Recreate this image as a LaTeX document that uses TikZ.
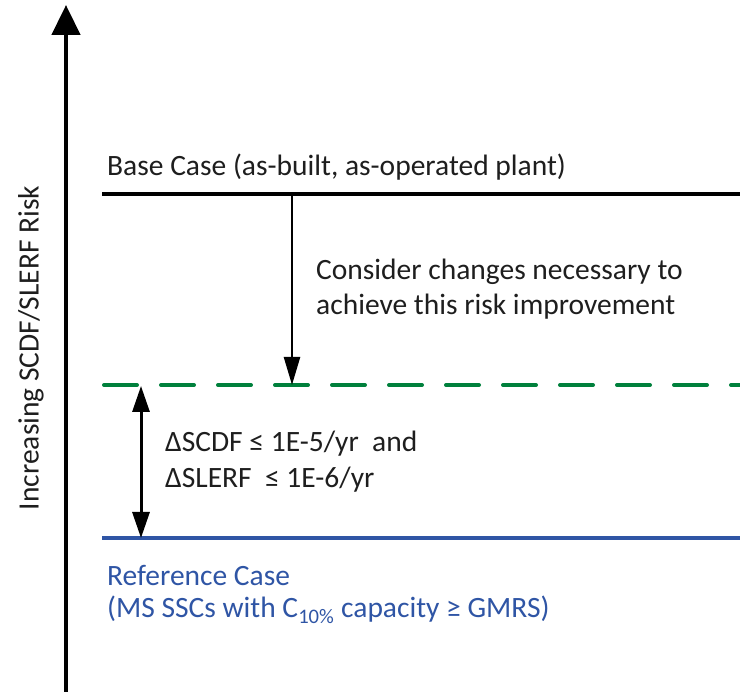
\documentclass[tikz,border=0pt]{standalone}
\usepackage{fontspec}
\setmainfont{Carlito}
\usetikzlibrary{arrows.meta}
\definecolor{refblue}{RGB}{47,85,165}
\definecolor{dgreen}{RGB}{0,128,60}
\definecolor{txt}{RGB}{30,30,30}
\tikzset{
  lbl/.style={anchor=west, inner sep=0pt, font=\fontsize{29.5}{35}\selectfont, text=txt},
  lvl/.style={line width=3.6pt},
}
\begin{document}
\begin{tikzpicture}[x=1pt,y=-1pt]
\useasboundingbox (0,0) rectangle (740,692);
% axis
\coordinate (ab) at (66,692);
\coordinate (at) at (66,5);
\draw[line width=4.6pt, -{Triangle[width=28pt,length=30pt]}] (ab) -- (at);
\node[rotate=90, inner sep=0pt, font=\fontsize{29.5}{35}\selectfont, text=txt] (axl) at (31,348) {Increasing SCDF/SLERF Risk};
% base line
\coordinate (b1) at (102,194);
\coordinate (b2) at (740,194);
\draw[lvl, black] (b1) -- (b2);
\node[lbl] (base) at (107,167) {Base Case (as-built, as-operated plant)};
% green dashed
\coordinate (g1) at (104,385);
\coordinate (g2) at (740,385);
\draw[line width=4pt, dgreen, line cap=round, dash pattern=on 33pt off 24pt] (g1) -- (g2);
% blue line
\coordinate (r1) at (102,538);
\coordinate (r2) at (740,538);
\draw[lvl, refblue] (r1) -- (r2);
% down arrow
\coordinate (d1) at (292,194);
\coordinate (d2) at (292,385);
\draw[line width=2.4pt, -{Triangle[width=16pt,length=28pt]}] (d1) -- (d2);
\node[lbl] (cons1) at (316,272) {Consider changes necessary to};
\node[lbl] (cons2) at (316,307) {achieve this risk improvement};
% double arrow
\coordinate (u1) at (141,386);
\coordinate (u2) at (141,538);
\draw[line width=3pt, {Triangle[width=17pt,length=26pt]}-{Triangle[width=17pt,length=26pt]}] (u1) -- (u2);
\node[lbl] (dl1) at (165,444) {ΔSCDF ≤ 1E-5/yr\ \ and};
\node[lbl] (dl2) at (165,480) {ΔSLERF\ \ ≤ 1E-6/yr};
% reference
\node[lbl, text=refblue] (ref1) at (107,575) {Reference Case};
\node[lbl, text=refblue] (ref2) at (107,610) {(MS SSCs with C\textsubscript{10\%} capacity ≥ GMRS)};
\end{tikzpicture}
\end{document}
